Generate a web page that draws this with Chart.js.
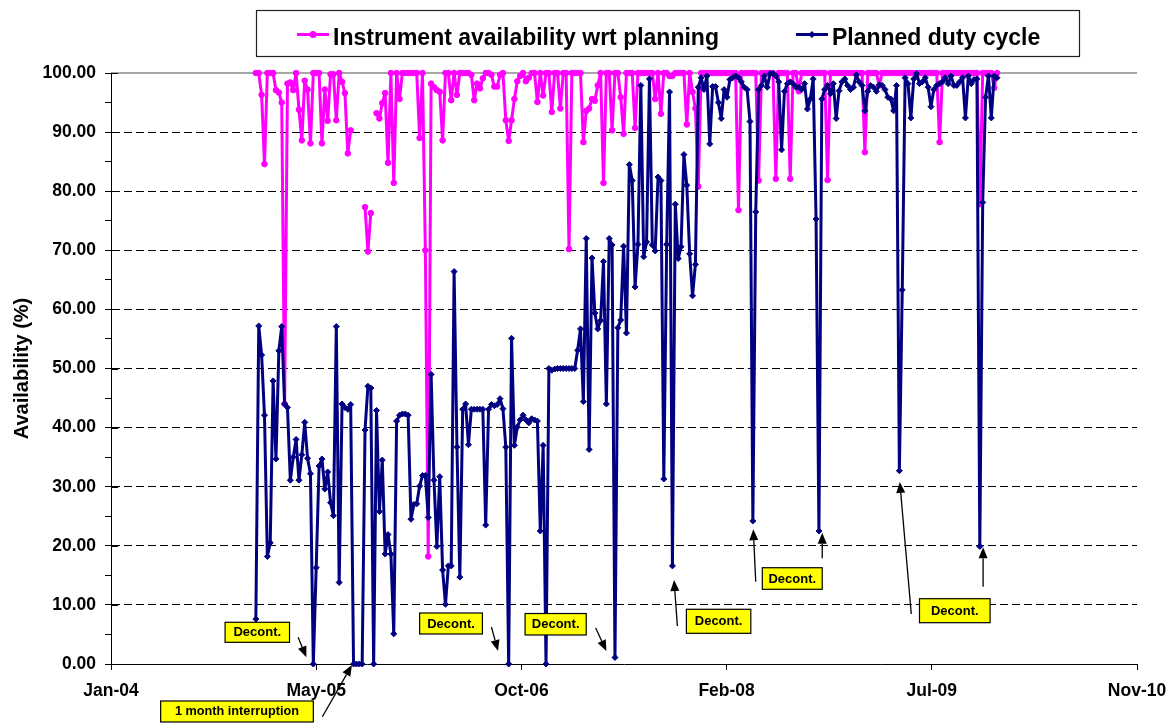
<!DOCTYPE html>
<html>
<head>
<meta charset="utf-8">
<script src="https://cdn.jsdelivr.net/npm/chart.js@4.4.1/dist/chart.umd.min.js"></script>
<style>
html,body{margin:0;padding:0;background:#ffffff;}
#wrap{position:relative;width:1171px;height:725px;}
</style>
</head>
<body>
<div id="wrap"><canvas id="c"></canvas></div>
<script>
// ---------------- data ----------------
const seriesNames = ['Instrument availability wrt planning', 'Planned duty cycle'];
const xTickLabels = ['Jan-04', 'May-05', 'Oct-06', 'Feb-08', 'Jul-09', 'Nov-10'];
const xTickStepDays = 500;          // days between labelled x ticks
const firstSampleDay = 353;         // days after the "Jan-04" tick
const sampleStepDays = 7;           // weekly samples
const yTickLabels = ['0.00','10.00','20.00','30.00','40.00','50.00','60.00','70.00','80.00','90.00','100.00'];

// Instrument availability wrt planning (%), weekly; null = no value
const availability = [
100,100,96.3,84.6,100,100,100,97.1,96.7,95.0,
44.0,98.2,98.4,97.1,100,93.8,88.6,98.7,97.2,88.1,
100,100,100,88.1,97.2,91.9,99.8,99.8,92.0,100,
98.5,96.6,86.4,90.3,null,null,null,null,77.3,69.8,
76.3,null,93.2,92.3,94.9,96.6,84.8,100,81.4,100,
95.6,100,100,100,100,100,100,89.0,100,70.0,
18.2,98.2,97.6,97.1,96.8,88.6,100,100,95.4,100,
96.3,100,100,100,100,99.7,95.4,98.2,97.4,99.1,
100,100,99.7,97.7,97.7,99.7,100,92.0,88.5,92.0,
95.6,98.6,99.5,100,98.6,99.2,100,100,95.1,100,
96.2,100,100,93.4,100,100,94.0,100,100,70.2,
100,100,100,100,88.3,93.6,94.0,95.6,95.3,97.9,
100,81.4,100,100,90.3,100,100,95.9,89.7,100,
100,100,90.7,100,100,100,100,100,100,95.6,
100,93.1,100,100,99.5,99.5,100,100,100,100,
91.3,100,96.8,94.0,80.8,100,100,100,100,100,
100,100,100,100,100,100,100,100,76.8,100,
100,100,100,100,100,81.8,100,100,100,100,
100,82.1,100,100,100,100,82.1,100,100,96.9,
100,100,100,100,100,100,100,100,100,81.9,
100,100,100,100,100,100,100,100,100,100,
100,100,86.6,100,100,100,100,97.9,100,100,
100,100,100,100,100,100,100,100,100,100,
100,100,100,100,100,100,100,100,88.3,100,
100,100,100,100,100,100,100,100,100,100,
100,100,77.8,100,100,100,100,97.5,100
];

// Planned duty cycle (%), weekly
const dutyCycle = [
7.6,57.2,52.3,42.1,18.2,20.5,47.9,34.7,53.0,57.1,
44.0,43.4,31.1,35.0,38.0,31.1,35.4,40.9,34.8,32.2,
0,16.3,33.5,34.7,29.6,32.5,27.3,25.1,57.1,13.8,
44.0,43.4,43.1,43.9,0,0,0,0,39.6,47.0,
46.7,0,42.9,25.8,34.5,18.6,21.9,18.6,5.1,41.1,
42.1,42.3,42.3,42.1,24.5,27.0,27.1,30.1,31.9,31.9,
24.8,49.0,31.1,19.9,31.7,15.9,10.1,16.6,16.6,66.4,
36.7,14.7,43.1,44.0,37.1,43.1,43.1,43.1,43.1,43.1,
23.5,43.1,43.9,43.7,43.9,44.9,43.2,36.7,0,55.1,
37.0,40.1,41.3,42.1,41.3,40.8,41.5,41.3,41.1,22.5,
37.0,0,50.0,49.7,49.9,50.0,50.0,50.0,50.0,50.0,
50.0,50.0,53.1,56.7,44.4,72.0,36.3,68.7,59.4,56.7,
58.1,68.1,44.0,72.0,70.9,1.1,56.9,58.2,70.7,56.0,
84.5,81.8,63.8,71.0,97.9,68.9,71.4,99.0,70.9,69.9,
82.4,81.8,31.3,71.0,96.8,16.6,77.8,68.6,70.6,86.2,
81.0,69.4,62.3,67.6,97.6,99.2,97.2,99.5,88.0,97.7,
97.7,95.0,92.3,97.2,95.9,98.9,99.2,99.5,99.2,98.5,
97.6,97.2,91.8,24.2,76.5,97.2,97.9,99.5,97.6,99.9,
99.9,99.5,98.5,87.0,96.9,98.2,98.5,98.2,97.6,97.6,
97.2,98.2,93.9,95.6,99.0,75.3,22.5,95.6,97.2,97.9,
96.5,98.2,92.3,97.0,98.5,99.0,97.9,97.2,97.6,99.7,
98.5,97.9,93.6,96.9,97.9,97.6,96.9,98.0,97.9,97.2,
95.9,95.6,93.6,97.9,32.7,63.3,99.2,98.2,92.4,99.0,
99.9,98.2,98.5,99.2,97.6,94.3,97.2,97.9,98.2,98.5,
99.2,98.2,99.5,97.9,97.9,98.5,99.2,92.4,99.5,98.2,
98.9,99.0,19.9,78.1,95.9,99.5,92.4,99.5,99.2
];

// Annotation call-outs (data coordinates: x in days after "Jan-04" tick, y in %)
const calloutTexts = ['Decont.','Decont.','Decont.','Decont.','Decont.','Decont.','1 month interruption'];
const calloutBoxes = [
  [278, 435, 7.06, 3.67],
  [752, 905, 8.63, 5.08],
  [1009, 1158, 8.54, 4.91],
  [1402, 1559, 9.26, 5.19],
  [1587, 1733, 16.29, 12.64],
  [1970, 2142, 11.05, 6.99],
  [121, 493, -6.26, -9.81]
];
const calloutArrows = [
  [456, 4.52, 476, 1.13],
  [515, -8.92, 587, -0.17],
  [927, 6.26, 943, 2.20],
  [1181, 6.09, 1207, 2.20],
  [1380, 6.43, 1372, 14.21],
  [1571, 13.93, 1565, 22.79],
  [1733, 17.88, 1733, 22.22],
  [1950, 8.46, 1922, 30.8],
  [2125, 13.08, 2125, 19.75]
];

// ---------------- chart ----------------
const FONT = '"Liberation Sans", Arial, Helvetica, sans-serif';
const PINK = '#FF00FF';
const NAVY = '#000080';

const toPoints = arr => arr.map((v, i) => ({x: firstSampleDay + i * sampleStepDays, y: v}));

function drawMarker(ctx, style, cx, cy, r, color) {
  ctx.fillStyle = color;
  ctx.beginPath();
  if (style === 'circle') {
    ctx.arc(cx, cy, r, 0, Math.PI * 2);
  } else {
    ctx.moveTo(cx, cy - r); ctx.lineTo(cx + r, cy); ctx.lineTo(cx, cy + r); ctx.lineTo(cx - r, cy); ctx.closePath();
  }
  ctx.fill();
}

function arrow(ctx, x1, y1, x2, y2) {
  const ang = Math.atan2(y2 - y1, x2 - x1);
  const L = 11, W = 4.5;
  const bx = x2 - L * Math.cos(ang), by = y2 - L * Math.sin(ang);
  ctx.beginPath(); ctx.moveTo(x1, y1); ctx.lineTo(bx, by); ctx.stroke();
  ctx.beginPath();
  ctx.moveTo(x2, y2);
  ctx.lineTo(bx + W * Math.sin(ang), by - W * Math.cos(ang));
  ctx.lineTo(bx - W * Math.sin(ang), by + W * Math.cos(ang));
  ctx.closePath(); ctx.fill();
}

const overlay = {
  id: 'overlay',
  beforeDatasetsDraw(chart) {
    const {ctx, chartArea: a, scales: {y}} = chart;
    ctx.save();
    const yt = y.getPixelForValue(100);
    ctx.strokeStyle = '#8a8a8a'; ctx.lineWidth = 1.5;
    ctx.beginPath(); ctx.moveTo(a.left, yt); ctx.lineTo(a.right, yt); ctx.stroke();
    ctx.strokeStyle = '#000'; ctx.lineWidth = 1;
    for (let v = 10; v <= 100; v += 10) {
      const py = Math.round(y.getPixelForValue(v)) + 0.5;
      ctx.beginPath(); ctx.moveTo(a.left, py); ctx.lineTo(a.left + 7, py); ctx.stroke();
    }
    ctx.restore();
  },
  afterDraw(chart) {
    const {ctx, scales: {x, y}} = chart;
    ctx.save();
    // legend
    ctx.strokeStyle = '#222'; ctx.lineWidth = 1.2;
    ctx.strokeRect(256.5, 10.5, 823, 46);
    ctx.font = 'bold 23px ' + FONT;
    ctx.textBaseline = 'alphabetic';
    ctx.textAlign = 'left';
    const items = [
      {label: seriesNames[0], color: PINK, style: 'circle', r: 3.5},
      {label: seriesNames[1], color: NAVY, style: 'diamond', r: 3.5}
    ];
    let lx = 297;
    items.forEach(it => {
      ctx.strokeStyle = it.color; ctx.lineWidth = 3;
      ctx.beginPath(); ctx.moveTo(lx, 34.5); ctx.lineTo(lx + 32, 34.5); ctx.stroke();
      drawMarker(ctx, it.style, lx + 16, 34.5, it.r, it.color);
      ctx.fillStyle = '#000';
      ctx.fillText(it.label, lx + 36, 44.5);
      lx += 36 + ctx.measureText(it.label).width + 77;
    });
    // callout boxes
    calloutBoxes.forEach((b, i) => {
      const x0 = x.getPixelForValue(b[0]), x1 = x.getPixelForValue(b[1]);
      const y0 = y.getPixelForValue(b[2]), y1 = y.getPixelForValue(b[3]);
      ctx.fillStyle = '#FFFF00';
      ctx.fillRect(x0, y0, x1 - x0, y1 - y0);
      ctx.strokeStyle = '#000'; ctx.lineWidth = 1.2;
      ctx.strokeRect(x0, y0, x1 - x0, y1 - y0);
      const txt = calloutTexts[i];
      ctx.font = (txt.length > 10 ? 'bold 12.7px ' : 'bold 13px ') + FONT;
      ctx.fillStyle = '#000';
      ctx.textAlign = 'center'; ctx.textBaseline = 'middle';
      ctx.fillText(txt, (x0 + x1) / 2, (y0 + y1) / 2 + 0.5);
    });
    // arrows
    ctx.strokeStyle = '#000'; ctx.fillStyle = '#000'; ctx.lineWidth = 1.3;
    calloutArrows.forEach(a => {
      arrow(ctx, x.getPixelForValue(a[0]), y.getPixelForValue(a[1]), x.getPixelForValue(a[2]), y.getPixelForValue(a[3]));
    });
    ctx.restore();
  }
};

new Chart(document.getElementById('c'), {
  type: 'line',
  data: {
    datasets: [
      {
        label: seriesNames[1],
        data: toPoints(dutyCycle),
        borderColor: NAVY, backgroundColor: NAVY,
        borderWidth: 3, borderJoinStyle: 'round', borderCapStyle: 'round',
        pointStyle: 'rectRot', pointRadius: 3, pointBorderWidth: 1,
        pointBorderColor: NAVY, pointBackgroundColor: NAVY,
        tension: 0, order: 0, clip: false
      },
      {
        label: seriesNames[0],
        data: toPoints(availability),
        borderColor: PINK, backgroundColor: PINK,
        borderWidth: 3, borderJoinStyle: 'round', borderCapStyle: 'round',
        pointStyle: 'circle', pointRadius: 2.8, pointBorderWidth: 1,
        pointBorderColor: PINK, pointBackgroundColor: PINK,
        tension: 0, order: 1, spanGaps: false, clip: false
      }
    ]
  },
  options: {
    responsive: true,
    maintainAspectRatio: false,
    animation: false,
    events: [],
    layout: {padding: {left: 0, right: 34, top: 73, bottom: 0}},
    plugins: {legend: {display: false}, tooltip: {enabled: false}, title: {display: false}},
    scales: {
      x: {
        type: 'linear',
        min: 0, max: xTickStepDays * (xTickLabels.length - 1),
        afterFit: s => { s.height = 61; s.paddingLeft = 0; s.paddingRight = 0; },
        ticks: {
          stepSize: xTickStepDays, autoSkip: false, maxRotation: 0, padding: 11,
          color: '#000', font: {family: FONT, size: 17.5, weight: 'bold'},
          callback: v => xTickLabels[Math.round(v / xTickStepDays)]
        },
        grid: {drawOnChartArea: false, drawTicks: true, tickLength: 6, tickColor: '#000', tickWidth: 1},
        border: {display: true, color: '#000', width: 1}
      },
      y: {
        type: 'linear',
        min: 0, max: 100,
        afterFit: s => { s.width = 111; s.paddingTop = 0; s.paddingBottom = 0; },
        ticks: {
          stepSize: 5, autoSkip: false, padding: 9,
          color: '#000', font: {family: FONT, size: 17.5, weight: 'bold'},
          callback: v => (v % 10 === 0 ? yTickLabels[v / 10] : '')
        },
        grid: {
          drawTicks: true, tickLength: 6, tickColor: '#000', tickWidth: 1, lineWidth: 1,
          color: c => (c.tick && c.tick.value % 10 === 0 && c.tick.value > 0 && c.tick.value < 100) ? '#000' : 'rgba(0,0,0,0)'
        },
        border: {display: true, color: '#000', width: 1, dash: [8, 4]},
        title: {
          display: true, text: 'Availability (%)', color: '#000',
          font: {family: FONT, size: 20, weight: 'bold'},
          padding: {top: 10, bottom: 0}
        }
      }
    }
  },
  plugins: [overlay]
});
</script>
</body>
</html>
